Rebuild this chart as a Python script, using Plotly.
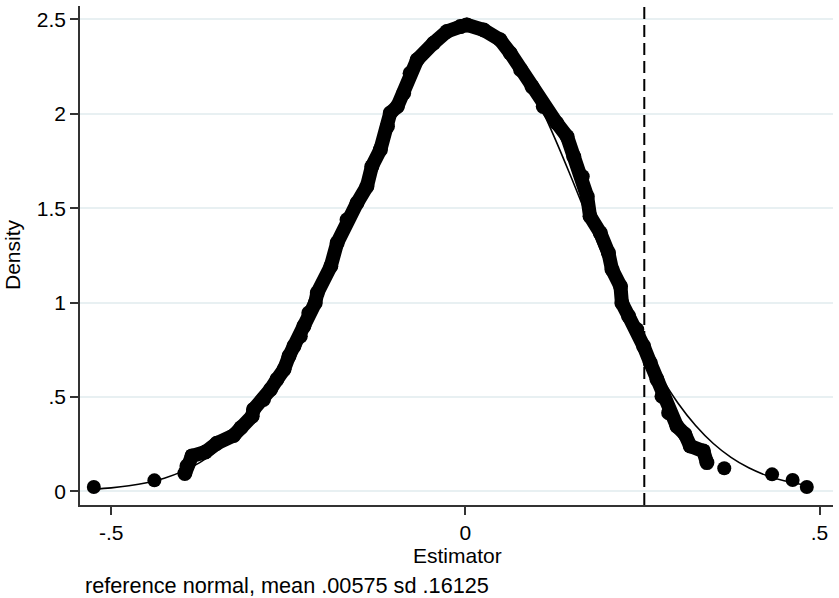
import plotly.graph_objects as go

# Kernel density estimate (markers) - tail points drawn separately
tail_x = [-0.5245, -0.439, 0.3655, 0.433, 0.462, 0.482]
tail_y = [0.023, 0.058, 0.122, 0.090, 0.060, 0.023]

kd_x = [-0.396, -0.393, -0.386, -0.367, -0.351, -0.327, -0.317, -0.301, -0.299, -0.285,
        -0.275, -0.266, -0.256, -0.249, -0.242, -0.233, -0.228, -0.221, -0.212, -0.209,
        -0.190, -0.181, -0.167, -0.153, -0.139, -0.132, -0.120, -0.110, -0.106, -0.096,
        -0.087, -0.078, -0.068, -0.045, -0.026, -0.007, 0.002, 0.026, 0.049, 0.0635,
        0.078, 0.094, 0.110, 0.129, 0.1435, 0.153, 0.165, 0.172, 0.176, 0.1905,
        0.202, 0.207, 0.219, 0.221, 0.2305, 0.242, 0.2516, 0.261, 0.2705, 0.2776,
        0.287, 0.2987, 0.310, 0.3175, 0.336, 0.341]
kd_y = [0.094, 0.134, 0.187, 0.208, 0.254, 0.296, 0.337, 0.398, 0.434, 0.487,
        0.540, 0.593, 0.646, 0.716, 0.769, 0.822, 0.875, 0.945, 0.998, 1.051,
        1.192, 1.316, 1.439, 1.527, 1.615, 1.721, 1.810, 1.933, 2.004, 2.039,
        2.110, 2.215, 2.286, 2.374, 2.436, 2.462, 2.471, 2.444, 2.392, 2.321,
        2.233, 2.144, 2.039, 1.951, 1.880, 1.774, 1.668, 1.562, 1.457, 1.369,
        1.263, 1.175, 1.086, 0.998, 0.928, 0.857, 0.769, 0.681, 0.593, 0.504,
        0.416, 0.345, 0.302, 0.240, 0.213, 0.152]

# Reference normal curve
norm_x = [-0.525, -0.500, -0.475, -0.450, -0.425, -0.400, -0.375, -0.350, -0.325, -0.300,
          -0.275, -0.250, -0.225, -0.200, -0.175, -0.150, -0.125, -0.100, -0.075, -0.050,
          -0.025, 0.000, 0.025, 0.050, 0.075, 0.100, 0.125, 0.150, 0.175, 0.200,
          0.225, 0.250, 0.275, 0.300, 0.325, 0.350, 0.375, 0.400, 0.425, 0.450,
          0.475, 0.482]
norm_y = [0.0110, 0.0181, 0.0291, 0.0456, 0.0698, 0.1043, 0.1523, 0.2170, 0.3019, 0.4100,
          0.5436, 0.7034, 0.8887, 1.0960, 1.3199, 1.5517, 1.7808, 1.9953, 2.1823, 2.3305,
          2.4295, 2.4724, 2.4564, 2.3825, 2.2561, 2.0856, 1.8820, 1.6583, 1.4261, 1.1974,
          0.9817, 0.7855, 0.6138, 0.4681, 0.3486, 0.2533, 0.1798, 0.1245, 0.0842, 0.0556,
          0.0358, 0.0316]

cutoff = 0.2526
x_ticks = [-0.5, 0, 0.5]
x_labels = ["-.5", "0", ".5"]
y_ticks = [0, 0.5, 1, 1.5, 2, 2.5]
y_labels = ["0", ".5", "1", "1.5", "2", "2.5"]

FONT = "Liberation Sans, Arial, Helvetica, sans-serif"

W, H = 839, 598
L, R, T, B = 80, 6, 6, 93
PW, PH = W - L - R, H - T - B


def px_to_paper(px, py):
    return (px - L) / PW, 1 - (py - T) / PH


fig = go.Figure()
fig.add_trace(go.Scatter(x=norm_x, y=norm_y, mode="lines",
                         line=dict(color="black", width=1.6, shape="spline"),
                         hoverinfo="skip", showlegend=False))
fig.add_trace(go.Scatter(x=kd_x, y=kd_y, mode="lines+markers",
                         line=dict(color="black", width=14),
                         marker=dict(color="black", size=15), showlegend=False))
fig.add_trace(go.Scatter(x=tail_x, y=tail_y, mode="markers",
                         marker=dict(color="black", size=14), showlegend=False))

fig.add_shape(type="line", x0=cutoff, x1=cutoff, xref="x", y0=0, y1=1, yref="y domain",
              line=dict(color="black", width=2, dash="12px,6px"))

ex, ey = px_to_paper(457, 555)
dx, dy = px_to_paper(13, 255)
fx, fy = px_to_paper(83, 585)

fig.update_layout(
    width=W, height=H,
    margin=dict(l=L, r=R, t=T, b=B),
    paper_bgcolor="white", plot_bgcolor="white",
    font=dict(family=FONT, size=21, color="black"),
    xaxis=dict(range=[-0.544, 0.519], tickvals=x_ticks, ticktext=x_labels, showgrid=False,
               zeroline=False, showline=True, linecolor="#333333", linewidth=1.5,
               ticks="outside", ticklen=8, tickcolor="#333333", tickwidth=1.5,
               tickfont=dict(size=21), automargin=False),
    yaxis=dict(range=[-0.0725, 2.571], tickvals=y_ticks, ticktext=y_labels, showgrid=True,
               gridcolor="#E8F0F2", gridwidth=1.5, zeroline=False, showline=True,
               linecolor="#333333", linewidth=1.5, ticks="outside", ticklen=8,
               tickcolor="#333333", tickwidth=1.5, tickfont=dict(size=21), automargin=False),
    annotations=[
        dict(text="Estimator", x=ex, y=ey, xref="paper", yref="paper", showarrow=False,
             xanchor="center", yanchor="middle"),
        dict(text="Density", textangle=-90, x=dx, y=dy, xref="paper", yref="paper",
             showarrow=False, xanchor="center", yanchor="middle"),
        dict(text="reference normal, mean .00575 sd .16125", x=fx, y=fy, xref="paper",
             yref="paper", showarrow=False, xanchor="left", yanchor="middle",
             font=dict(size=21.7)),
    ],
)

fig.write_html("out.html", config={"displayModeBar": False},
               post_script="document.body.style.margin='0';document.body.style.overflow='hidden';")
